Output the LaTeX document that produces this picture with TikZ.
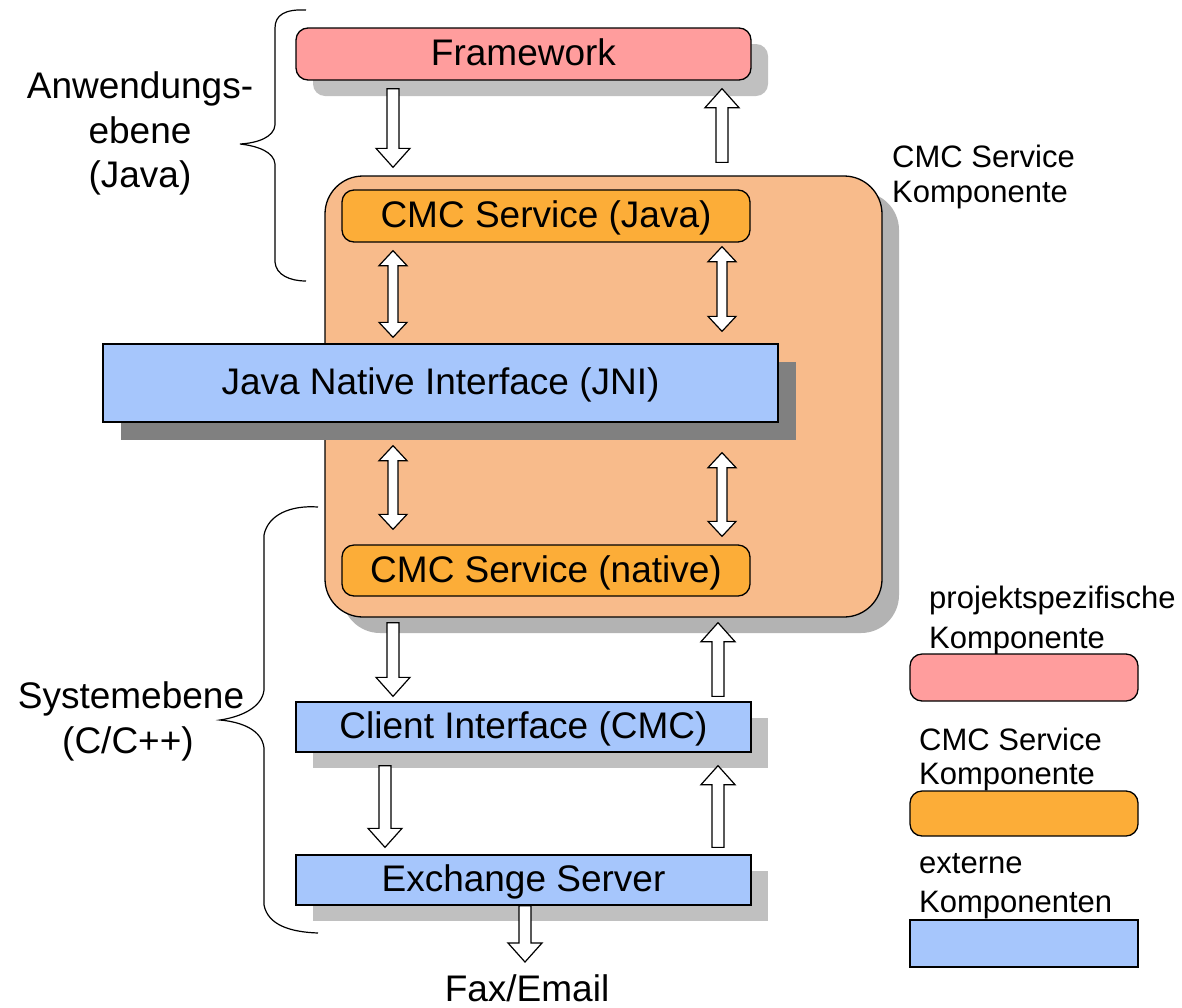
\documentclass[tikz,border=0pt]{standalone}
\usepackage{fontspec}
\setmainfont{Liberation Sans}
\usetikzlibrary{calc,shadows}
\definecolor{pinkc}{HTML}{FF9D9D}
\definecolor{peach}{HTML}{F8BB8B}
\definecolor{orangec}{HTML}{FCAD38}
\definecolor{bluec}{HTML}{A6C6FC}
\definecolor{shlight}{HTML}{C0C0C0}
\definecolor{shmid}{HTML}{B3B3B3}
\definecolor{shdark}{HTML}{808080}
\newcommand\bigf{\fontsize{37}{44}\selectfont}
\newcommand\smf{\fontsize{31}{36}\selectfont}
\tikzset{
  box/.style={draw=black, line width=1.3pt, inner sep=0pt, font=\bigf, text height=26pt, text depth=3pt},
  pinkbox/.style={box, fill=pinkc, rounded corners=12pt},
  orangebox/.style={box, fill=orangec, rounded corners=12pt},
  bluebox/.style={box, fill=bluec},
  contbox/.style={draw=black, line width=1.3pt, inner sep=0pt, fill=peach, rounded corners=38pt},
  shad/.style={general shadow={fill=#1, shadow xshift=17pt, shadow yshift=-16pt}},
  blockarrow/.style={draw=black, fill=white, line width=1.2pt, line join=miter},
  lbl/.style={font=\bigf, inner sep=0pt, anchor=base},
  lbls/.style={font=\smf, inner sep=0pt, anchor=base west},
  brace/.style={draw=black, line width=1.2pt},
}
\newcommand\sarrow[2]{\draw[blockarrow] let \p1=(#1), \p2=(#2), \n1={ifthenelse(\y2>\y1,1,-1)} in
  ({\x1-6pt},\y1) -- ({\x1-6pt},{\y2-(\n1*19pt)}) -- ({\x1-17pt},{\y2-(\n1*19pt)}) -- (\x1,\y2)
  -- ({\x1+17pt},{\y2-(\n1*19pt)}) -- ({\x1+6pt},{\y2-(\n1*19pt)}) -- ({\x1+6pt},\y1) -- cycle;}
\newcommand\darrow[2]{\draw[blockarrow] let \p1=(#1), \p2=(#2), \n1={ifthenelse(\y2>\y1,1,-1)} in
  (\x1,\y1) -- ({\x1+14pt},{\y1+(\n1*15pt)}) -- ({\x1+5pt},{\y1+(\n1*15pt)}) -- ({\x1+5pt},{\y2-(\n1*15pt)})
  -- ({\x1+14pt},{\y2-(\n1*15pt)}) -- (\x1,\y2) -- ({\x1-14pt},{\y2-(\n1*15pt)}) -- ({\x1-5pt},{\y2-(\n1*15pt)})
  -- ({\x1-5pt},{\y1+(\n1*15pt)}) -- ({\x1-14pt},{\y1+(\n1*15pt)}) -- cycle;}
\begin{document}
\begin{tikzpicture}[x=1pt,y=-1pt]
\useasboundingbox (0,0) rectangle (1182,1007);
% main boxes
\node[pinkbox, shad=shlight, minimum width=455, minimum height=52] (fw) at (523.5,54) {Framework};
\node[contbox, shad=shmid, minimum width=557, minimum height=441] (cont) at (603.5,396.5) {};
\node[orangebox, minimum width=408, minimum height=52] (cj) at (546,216) {CMC Service (Java)};
\node[bluebox, general shadow={fill=shdark, shadow xshift=18pt, shadow yshift=-18pt}, minimum width=675, minimum height=78] (jni) at (440.5,383) {Java Native Interface (JNI)};
\node[orangebox, minimum width=408, minimum height=51] (cn) at (546,570.5) {CMC Service (native)};
\node[bluebox, shad=shlight, minimum width=455, minimum height=50] (ci) at (523.5,727) {Client Interface (CMC)};
\node[bluebox, shad=shlight, minimum width=455, minimum height=50] (ex) at (523.5,880) {Exchange Server};
\node[lbl] (fax) at (527,1001) {Fax/Email};
% arrow x positions
\coordinate (xa) at (393,0);
\coordinate (xb) at (722,0);
\coordinate (xc) at (718,0);
\coordinate (xd) at (385,0);
\coordinate (xe) at (525,0);
\sarrow{$(fw.south -| xa)+(0,8)$}{$(cont.north -| xa)+(0,-8)$}
\sarrow{$(cont.north -| xb)+(0,-13)$}{$(fw.south -| xb)+(0,8)$}
\darrow{$(cj.south -| xa)+(0,8)$}{$(jni.north -| xa)+(0,-6)$}
\darrow{$(cj.south -| xb)+(0,4)$}{$(jni.north -| xb)+(0,-12)$}
\darrow{$(jni.south -| xa)+(0,23)$}{$(cn.north -| xa)+(0,-15)$}
\darrow{$(jni.south -| xb)+(0,30)$}{$(cn.north -| xb)+(0,-8)$}
\sarrow{$(cont.south -| xa)+(0,5)$}{$(ci.north -| xa)+(0,-5)$}
\sarrow{$(ci.north -| xc)+(0,-5)$}{$(cont.south -| xc)+(0,5)$}
\sarrow{$(ci.south -| xd)+(0,13)$}{$(ex.north -| xd)+(0,-7)$}
\sarrow{$(ex.north -| xc)+(0,-7)$}{$(ci.south -| xc)+(0,13)$}
\sarrow{ex.south -| xe}{$(fax.north -| xe)+(0,-12)$}
% braces
\draw[brace] (306,10) .. controls (285,9) and (275,15) .. (275,28) -- (275,125)
  .. controls (274,137) and (258,143) .. (240,144) .. controls (258,146) and (274,152) .. (275,164)
  -- (275,262) .. controls (276,275) and (290,281) .. (306,281);
\draw[brace] (318,507) .. controls (290,505) and (268,515) .. (264,535) -- (264,690)
  .. controls (262,708) and (240,717) .. (220,720) .. controls (242,722) and (262,730) .. (264,748)
  -- (264,905) .. controls (268,925) and (290,932) .. (318,933);
% side labels
\node[lbl] (a1) at (140,98) {Anwendungs-};
\node[lbl] (a2) at (140,143) {ebene};
\node[lbl] (a3) at (140,187) {(Java)};
\node[lbl] (s1) at (131,708) {Systemebene};
\node[lbl] (s2) at (128,753) {(C/C++)};
\node[lbls] (k1) at (892,167) {CMC Service};
\node[lbls] (k2) at (892,202) {Komponente};
% legend
\node[lbls] (l1) at (929,608) {projektspezifische};
\node[lbls] (l2) at (929,648) {Komponente};
\node[pinkbox, minimum width=228, minimum height=47] (lp) at (1024,677.5) {};
\node[lbls] (l3) at (919,750) {CMC Service};
\node[lbls] (l4) at (919,784) {Komponente};
\node[orangebox, minimum width=228, minimum height=45] (lo) at (1024,813.5) {};
\node[lbls] (l5) at (919,873) {externe};
\node[lbls] (l6) at (919,912) {Komponenten};
\node[bluebox, minimum width=228, minimum height=47] (lb) at (1024,943.5) {};
\end{tikzpicture}
\end{document}
